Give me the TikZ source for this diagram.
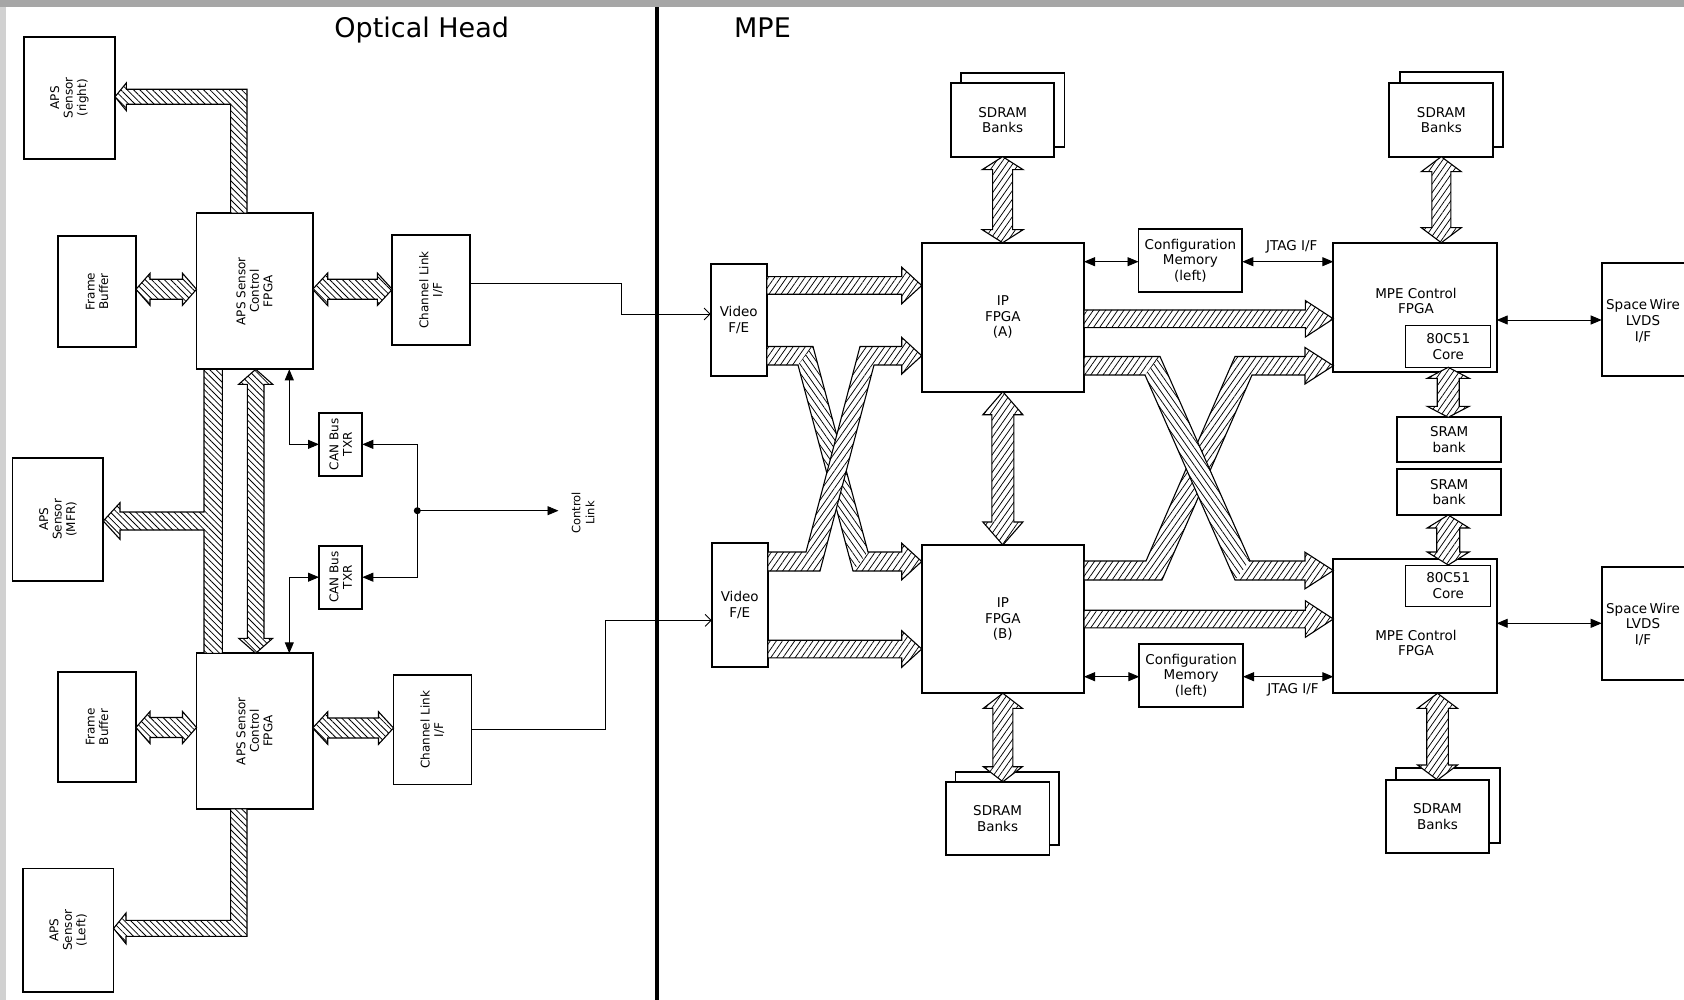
\documentclass[tikz,border=0pt]{standalone}
\usepackage{fontspec}
\setmainfont{DejaVu Sans}
\usetikzlibrary{arrows.meta,calc,fit,patterns.meta}

\tikzset{
 box/.style={draw, line width=1.7pt, fill=white, inner sep=0pt, outer sep=0pt},
 thinbox/.style={draw, line width=1pt, fill=white, inner sep=0pt, outer sep=0pt},
 ltxt/.style={rotate=90, align=center, font=\fontsize{12}{13.5}\selectfont, inner sep=0pt},
 rtxt/.style={align=center, font=\fontsize{13.5}{15.7}\selectfont, inner sep=0pt},
 hR/.style={pattern={Lines[angle=55,distance=5pt,line width=0.75pt]}},
 hL/.style={pattern={Lines[angle=-55,distance=5pt,line width=0.75pt]}},
 bandline/.style={draw, line width=1.1pt, line join=miter},
 fatR/.style={bandline, preaction={fill=white}, hR},
 fatL/.style={bandline, preaction={fill=white}, pattern={Lines[angle=-45,distance=4.5pt,line width=0.8pt]}},
 conn/.style={line width=0.9pt},
 >={Triangle[length=11pt,width=9pt]},
}

% double-headed fat arrow: style, P, Q, shaft half, head half, head length
\newcommand\dfat[6]{%
 \coordinate (faP) at (#2); \coordinate (faQ) at (#3);
 \coordinate (fa1) at ($(faP)!#6!(faQ)$);
 \coordinate (fa2) at ($(faQ)!#6!(faP)$);
 \draw[#1] (faP) -- ($(fa1)!#5!90:(faQ)$) -- ($(fa1)!#4!90:(faQ)$) -- ($(fa2)!#4!-90:(faP)$) -- ($(fa2)!#5!-90:(faP)$) -- (faQ) -- ($(fa2)!#5!90:(faP)$) -- ($(fa2)!#4!90:(faP)$) -- ($(fa1)!#4!-90:(faQ)$) -- ($(fa1)!#5!-90:(faQ)$) -- cycle;}
% single-headed fat arrow from P to Q
\newcommand\sfat[6]{%
 \coordinate (faP) at (#2); \coordinate (faQ) at (#3);
 \coordinate (fa2) at ($(faQ)!#6!(faP)$);
 \draw[#1] ($(faP)!#4!90:(faQ)$) -- ($(fa2)!#4!-90:(faP)$) -- ($(fa2)!#5!-90:(faP)$) -- (faQ) -- ($(fa2)!#5!90:(faP)$) -- ($(fa2)!#4!90:(faP)$) -- ($(faP)!#4!-90:(faQ)$) -- cycle;}

\begin{document}
\begin{tikzpicture}[x=1pt,y=-1pt]
\useasboundingbox (0,0) rectangle (1684,1000);
\clip (0,0) rectangle (1684,1000);
\fill[gray!70] (0,0) rectangle (1684,7.3);
\fill[gray!36] (0,7.3) rectangle (5.5,1000);
\draw[line width=4pt] (657,7.3) -- (657,1000);

\node[font=\fontsize{27}{30}\selectfont, anchor=base, inner sep=0pt] (tOH) at (421.7,37.7) {Optical Head};
\node[font=\fontsize{27}{30}\selectfont, anchor=base, inner sep=0pt] (tMPE) at (762.5,38) {MPE};

% ---------- Optical head boxes
\node[box, fit={(24,36.7)(115,159)}] (apsR) {};
\node[box, fit={(196.5,213.3)(312.7,369.3)}] (fpgaT) {};
\node[box, fit={(58,236)(136,346.7)}] (fbT) {};
\node[box, fit={(392.3,235)(470.1,345)}] (clT) {};
\node[box, fit={(12.5,457.8)(103.3,581)}] (mfr) {};
\node[box, fit={(319,412.7)(362.3,476)}] (canT) {};
\node[box, fit={(319,545.7)(362.3,608.7)}] (canB) {};
\node[box, fit={(196.5,653.3)(312.7,808.9)}] (fpgaB) {};
\node[box, fit={(58,672)(136,781.8)}] (fbB) {};
\node[box, fit={(393.5,675)(471.4,784.6)}] (clB) {};
\node[box, fit={(23,868.6)(113.6,991.8)}] (apsL) {};

% ---------- MPE boxes
\node[box, fit={(710.7,264)(766.7,376)}] (vfeT) {};
\node[box, fit={(711.7,542.7)(767.7,667.3)}] (vfeB) {};
\node[box, fit={(921.7,242.7)(1084,391.7)}] (ipA) {};
\node[box, fit={(921.7,545)(1084,693.3)}] (ipB) {};
\node[box, fit={(961.2,73.3)(1064.4,146.7)}] (sdTLb) {};
\node[box, fit={(951.3,83.3)(1054,156.7)}] (sdTL) {};
\node[box, fit={(955.6,771.7)(1059,845)}] (sdBLb) {};
\node[box, fit={(945.7,781.7)(1049.4,855)}] (sdBL) {};
\node[box, fit={(1138.5,229)(1242.3,292)}] (cfgA) {};
\node[box, fit={(1139.3,644)(1243,707.3)}] (cfgB) {};
\node[box, fit={(1333.3,242.7)(1496.7,372.3)}] (mpeA) {};
\node[thinbox, fit={(1405.7,326)(1490.7,367.3)}] (coreA) {};
\node[box, fit={(1333.3,559)(1496.7,693.3)}] (mpeB) {};
\node[thinbox, fit={(1405.7,565)(1490.7,606.7)}] (coreB) {};
\node[box, fit={(1397.3,417.3)(1501,462.3)}] (sramA) {};
\node[box, fit={(1397.3,469)(1501,515)}] (sramB) {};
\node[box, fit={(1400,71.7)(1503.3,146.7)}] (sdTRb) {};
\node[box, fit={(1389.3,83.3)(1493.3,156.7)}] (sdTR) {};
\node[box, fit={(1395.7,768.3)(1500,842.7)}] (sdBRb) {};
\node[box, fit={(1385.7,780)(1489.3,853.3)}] (sdBR) {};
\node[box, fit={(1601.7,263.3)(1692,376)}] (swA) {};
\node[box, fit={(1601.7,567.3)(1692,680)}] (swB) {};

% ---------- Optical head fat buses
\draw[fatL] (fpgaT.north -| 230.6,0) -- (230.6,104.3) -- (126.3,104.3) -- (126.3,110.6) -- (apsR.east |- 0,96.8) -- (126.3,83) -- (126.3,89.3) -- (247,89.3) -- (fpgaT.north -| 247,0) -- cycle;
\draw[fatL] (fpgaT.south -| 204,0) -- (fpgaT.south -| 222.3,0) -- (fpgaB.north -| 222.3,0) -- (fpgaB.north -| 204,0) -- (204,530) -- (120,530) -- (120,539.3) -- (mfr.east |- 0,521) -- (120,502.7) -- (120,512) -- (204,512) -- cycle;
\dfat{fatL}{fpgaT.south -| 255.7,0}{fpgaB.north -| 255.7,0}{8.3pt}{17pt}{15pt}
\draw[fatL] (fpgaB.south -| 230.6,0) -- (230.6,920.4) -- (126,920.4) -- (126,913) -- (apsL.east |- 0,928.4) -- (126,943.8) -- (126,936.4) -- (247,936.4) -- (fpgaB.south -| 247,0) -- cycle;
\dfat{fatL}{fbT.east |- 0,289.3}{fpgaT.west |- 0,289.3}{10pt}{16pt}{14pt}
\dfat{fatL}{fpgaT.east |- 0,289.3}{clT.west |- 0,289.3}{10pt}{16.3pt}{15pt}
\dfat{fatL}{fbB.east |- 0,727.5}{fpgaB.west |- 0,727.5}{10pt}{16pt}{14pt}
\dfat{fatL}{fpgaB.east |- 0,728}{clB.west |- 0,728}{10pt}{16.3pt}{15pt}

% ---------- CAN bus and control link
\draw[conn,<->] (fpgaT.south -| 289.3,0) |- (canT.west);
\draw[conn,<->] (fpgaB.north -| 289.3,0) |- (canB.west);
\coordinate (jn) at (417.3,510.7);
\draw[conn,->] (jn) |- (canT.east);
\draw[conn,->] (jn) |- (canB.east);
\fill (jn) circle (3.5pt);
\coordinate (ctlin) at (558.5,510.7);
\draw[conn,->] (jn) -- (ctlin);

% ---------- channel links to video F/E
\draw[conn,-{Straight Barb[length=6pt,width=12pt]}] (clT.east |- 0,283.3) -- (621.6,283.3) |- (vfeT.west |- 0,314);
\draw[conn,-{Straight Barb[length=6pt,width=12pt]}] (clB.east |- 0,729.3) -- (605.2,729.3) |- (vfeB.west |- 0,620.4);

% ---------- MPE fat arrows
\sfat{fatR}{vfeT.east |- 0,285.5}{ipA.west |- 0,285.5}{8.8pt}{18.3pt}{20pt}
\sfat{fatR}{vfeB.east |- 0,649}{ipB.west |- 0,649}{8.8pt}{18.3pt}{20pt}
\sfat{fatR}{ipA.east |- 0,318.8}{mpeA.west |- 0,318.8}{8.8pt}{18.3pt}{28pt}
\sfat{fatR}{ipB.east |- 0,619}{mpeB.west |- 0,619}{8.8pt}{18.3pt}{28pt}
\dfat{fatR}{sdTL.south}{sdTL.south |- ipA.north}{10pt}{20.5pt}{13pt}
\dfat{fatR}{ipA.south}{ipB.north}{11pt}{20pt}{23pt}
\dfat{fatR}{ipB.south}{ipB.south |- sdBL.north}{10pt}{19.5pt}{15pt}
\dfat{fatR}{sdTR.south}{sdTR.south |- mpeA.north}{9.5pt}{20pt}{15pt}
\dfat{fatR}{coreA.south}{coreA.south |- sramA.north}{11pt}{21pt}{11pt}
\dfat{fatR}{coreB.north |- sramB.south}{coreB.north}{11.5pt}{21pt}{13pt}
\dfat{fatR}{mpeB.south -| sdBR.north}{sdBR.north}{10.8pt}{20pt}{15pt}

% left crossing: band A (video top -> IP B), band B (video bottom -> IP A)
\path[save path=\bandA] (vfeT.east |- 0,346.5) -- (813,346.5) -- (868,552) -- (901.7,552) -- (901.7,543.2) -- (ipB.west |- 0,561.5) -- (901.7,579.8) -- (901.7,571) -- (853,571) -- (798,365) -- (vfeT.east |- 0,365) -- cycle;
\fill[white, use path=\bandA];
\fill[hR] (766.7,346.5) -- (813,346.5) -- (798,365) -- (766.7,365) -- cycle;
\fill[hL] (813,346.5) -- (868,552) -- (853,571) -- (798,365) -- cycle;
\fill[hR] (868,552) -- (901.7,552) -- (901.7,543.2) -- (921.7,561.5) -- (901.7,579.8) -- (901.7,571) -- (853,571) -- cycle;
\draw[bandline, use path=\bandA];
\draw[fatR] (vfeB.east |- 0,552) -- (806,552) -- (860,346.5) -- (901.7,346.5) -- (901.7,337.4) -- (ipA.west |- 0,355.75) -- (901.7,374.1) -- (901.7,365) -- (874,365) -- (820,571) -- (vfeB.east |- 0,571) -- cycle;

% right crossing: band D (IP B -> MPE A), band C (IP A -> MPE B)
\draw[fatR] (ipB.east |- 0,561) -- (1146,561) -- (1235,356.5) -- (1305,356.5) -- (1305,347.5) -- (mpeA.west |- 0,365.75) -- (1305,384) -- (1305,375) -- (1252,375) -- (1162,580) -- (ipB.east |- 0,580) -- cycle;
\path[save path=\bandC] (ipA.east |- 0,356.5) -- (1160,356.5) -- (1250,561) -- (1305,561) -- (1305,552.2) -- (mpeB.west |- 0,570.5) -- (1305,588.8) -- (1305,580) -- (1235,580) -- (1145,375) -- (ipA.east |- 0,375) -- cycle;
\fill[white, use path=\bandC];
\fill[hR] (1084,356.5) -- (1160,356.5) -- (1145,375) -- (1084,375) -- cycle;
\fill[hL] (1160,356.5) -- (1250,561) -- (1235,580) -- (1145,375) -- cycle;
\fill[hR] (1250,561) -- (1305,561) -- (1305,552.2) -- (1333.3,570.5) -- (1305,588.8) -- (1305,580) -- (1235,580) -- cycle;
\draw[bandline, use path=\bandC];

% ---------- MPE thin connectors
\draw[conn,<->] (ipA.east |- 0,261.7) -- (cfgA.west |- 0,261.7);
\draw[conn,<->] (cfgA.east |- 0,261.7) -- (mpeA.west |- 0,261.7);
\draw[conn,<->] (mpeA.east |- 0,320) -- (swA.west |- 0,320);
\draw[conn,<->] (ipB.east |- 0,676.7) -- (cfgB.west |- 0,676.7);
\draw[conn,<->] (cfgB.east |- 0,676.7) -- (mpeB.west |- 0,676.7);
\draw[conn,<->] (mpeB.east |- 0,623.3) -- (swB.west |- 0,623.3);

% ---------- texts
\node[ltxt] at (apsR) {APS\\Sensor\\(right)};
\node[ltxt] at (fpgaT) {APS Sensor\\Control\\FPGA};
\node[ltxt] at (fbT) {Frame\\Buffer};
\node[ltxt] at (clT) {Channel Link\\I/F};
\node[ltxt] at (mfr) {APS\\Sensor\\(MFR)};
\node[ltxt] at (canT) {CAN Bus\\TXR};
\node[ltxt] at (canB) {CAN Bus\\TXR};
\node[ltxt] at (fpgaB) {APS Sensor\\Control\\FPGA};
\node[ltxt] at (fbB) {Frame\\Buffer};
\node[ltxt] at (clB) {Channel Link\\I/F};
\node[ltxt] at (apsL) {APS\\Sensor\\(Left)};
\node[ltxt, font=\fontsize{11.5}{14}\selectfont] (ctl) at (583,513) {Control\\Link};

\node[rtxt] at (vfeT) {Video\\F/E};
\node[rtxt] at (vfeB) {Video\\F/E};
\node[rtxt] at (ipA) {IP\\FPGA\\(A)};
\node[rtxt] at (ipB) {IP\\FPGA\\(B)};
\node[rtxt] at (sdTL) {SDRAM\\Banks};
\node[rtxt] at (sdBL) {SDRAM\\Banks};
\node[rtxt] at (sdTR) {SDRAM\\Banks};
\node[rtxt] at (sdBR) {SDRAM\\Banks};
\node[rtxt] at (cfgA) {Configuration\\Memory\\(left)};
\node[rtxt] at (cfgB) {Configuration\\Memory\\(left)};
\node[rtxt] at (1416,301) {MPE Control\\FPGA};
\node[rtxt] at (1416,643) {MPE Control\\FPGA};
\node[rtxt] at (coreA) {80C51\\Core};
\node[rtxt] at (coreB) {80C51\\Core};
\node[rtxt] at (sramA) {SRAM\\bank};
\node[rtxt] at (sramB) {SRAM\\bank};
\node[rtxt] at (1643,321) {Space\,Wire\\LVDS\\I/F};
\node[rtxt] at (1643,624.3) {Space\,Wire\\LVDS\\I/F};
\node[rtxt] at (1291.7,247) {JTAG I/F};
\node[rtxt] at (1293,690) {JTAG I/F};
\end{tikzpicture}
\end{document}
